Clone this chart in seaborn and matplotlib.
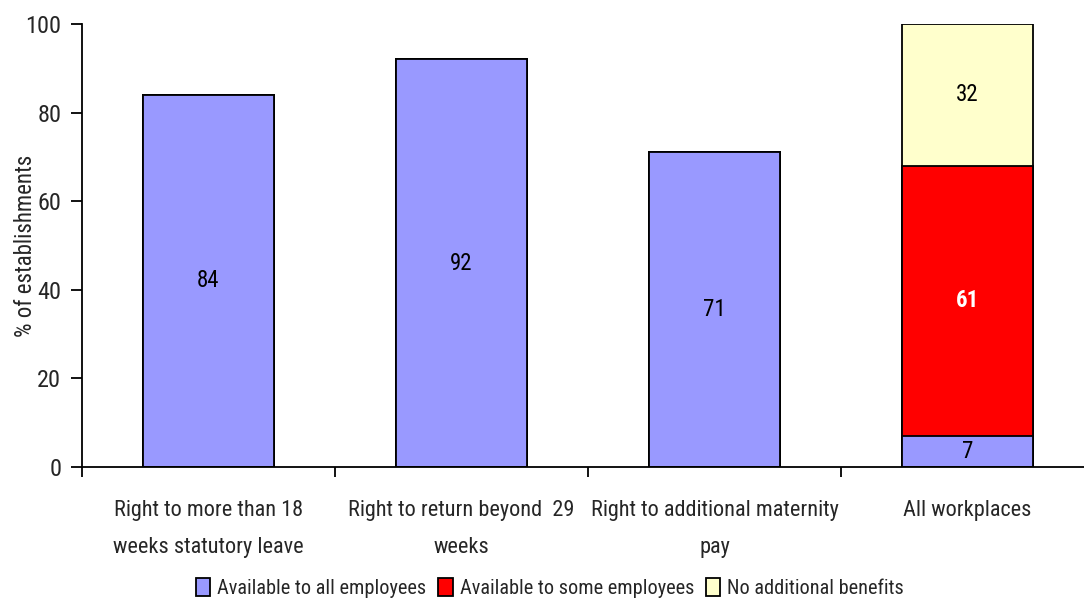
import matplotlib
matplotlib.use("Agg")
import matplotlib.pyplot as plt
from matplotlib import font_manager
from matplotlib.patches import Patch
import seaborn as sns
import pandas as pd

categories = ["Right to more than 18\nweeks statutory leave",
              "Right to return beyond  29\nweeks",
              "Right to additional maternity\npay",
              "All workplaces"]
all_emp = [84, 92, 71, 7]
some_emp = [0, 0, 0, 61]
no_benefit = [0, 0, 0, 32]
series_names = ["Available to all employees", "Available to some employees", "No additional benefits"]
colors = ["#9999FF", "#FF0000", "#FFFFCC"]
yticks = [0, 20, 40, 60, 80, 100]

sns.set_theme(style="white")
names = {f.name for f in font_manager.fontManager.ttflist}
cond = [n for n in ["Liberation Sans Narrow", "DejaVu Sans Condensed", "Roboto Condensed",
                    "Open Sans Condensed", "Noto Sans Condensed"] if n in names]
if cond:
    fam, k = cond[0], 1.0
else:
    fam, k = "Liberation Sans", 0.84
plt.rcParams["font.family"] = [fam, "DejaVu Sans"]

fig = plt.figure(figsize=(10.84, 5.98), dpi=100)
ax = fig.add_axes([82/1084, 131/598, 1012/1084, 443/598])

df = pd.DataFrame({"cat": categories, "a": all_emp, "b": some_emp, "c": no_benefit})
df["ab"] = df["a"] + df["b"]
df["abc"] = df["ab"] + df["c"]

for col, color in [("abc", colors[2]), ("ab", colors[1]), ("a", colors[0])]:
    sns.barplot(data=df, x="cat", y=col, color=color, edgecolor="black",
                linewidth=1.3, width=0.52, saturation=1, ax=ax)

fs = 16.5 * k
for i in range(len(categories)):
    a, b, c = all_emp[i], some_emp[i], no_benefit[i]
    ax.text(i, a/2, str(a), ha="center", va="center", fontsize=fs, color="black")
    if b:
        ax.text(i, a + b/2, str(b), ha="center", va="center", fontsize=fs,
                color="white", fontweight="bold")
    if c:
        ax.text(i, a + b + c/2, str(c), ha="center", va="center", fontsize=fs, color="black")

ax.set_xlim(-0.5, 3.5)
ax.set_ylim(0, 100)
ax.set_yticks(yticks)
ax.set_yticklabels([str(t) for t in yticks], fontsize=17.5 * k)
ax.set_ylabel("% of establishments", fontsize=fs)
ax.yaxis.set_label_coords(-45/1012, 0.5)
ax.set_xlabel("")
ax.set_xticks(range(len(categories)))
ax.set_xticklabels(categories, fontsize=16 * k)
for t in ax.get_xticklabels():
    t.set_linespacing(2.0)
ax.set_xticks([-0.5, 0.5, 1.5, 2.5], minor=True)
ax.tick_params(axis="x", which="major", length=0, pad=24)
ax.tick_params(axis="x", which="minor", length=7, width=1.3, color="black", direction="out", bottom=True)
ax.tick_params(axis="y", which="major", length=8, width=1.3, color="black", direction="out", left=True, pad=7)

for s in ["top", "right"]:
    ax.spines[s].set_visible(False)
for s in ["left", "bottom"]:
    ax.spines[s].set_color("black")
    ax.spines[s].set_linewidth(1.3)

handles = [Patch(facecolor=c, edgecolor="black", linewidth=1.3) for c in colors]
fig.legend(handles, series_names, loc="center", bbox_to_anchor=(550/1084, 1 - 588/598),
           ncol=3, frameon=False, fontsize=14.6 * k, handlelength=0.7, handleheight=1.0,
           handletextpad=0.35, columnspacing=0.6)

fig.savefig("out.png", dpi=100)
